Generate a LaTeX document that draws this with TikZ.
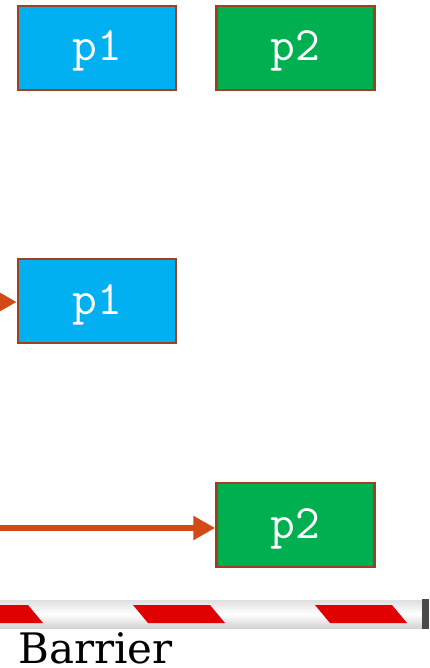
\documentclass[tikz,border=0pt]{standalone}
\usepackage{fontspec}
\setmainfont{DejaVu Serif}
\setmonofont{Latin Modern Mono}
\usetikzlibrary{arrows.meta}
\definecolor{procblue}{HTML}{00B0F0}
\definecolor{procgreen}{HTML}{00B050}
\definecolor{boxedge}{HTML}{A0401E}
\definecolor{flow}{HTML}{D24B17}
\definecolor{stripe}{HTML}{E00000}
\definecolor{capgray}{HTML}{4A4A4A}
\tikzset{
  procbox/.style={draw=boxedge, line width=2.5pt, minimum width=158pt,
    minimum height=84pt, inner sep=0pt, text=white,
    font=\ttfamily\bfseries\fontsize{48}{48}\selectfont, text height=31pt, text depth=5pt},
  flowarrow/.style={draw=flow, line width=6pt,
    -{Triangle[length=22pt,width=23pt]}},
}
\begin{document}
\begin{tikzpicture}[x=1pt,y=-1pt]
\useasboundingbox (0,0) rectangle (429,668);
\clip (0,0) rectangle (429,668);
% top row: both processes
\node[procbox, fill=procblue]  (p1a) at (97,48)  {p1};
\node[procbox, fill=procgreen] (p2a) at (295.5,48) {p2};
% p1 waiting at the barrier
\node[procbox, fill=procblue]  (p1b) at (97,301) {p1};
\coordinate (p1from) at (-40,302);
\draw[flowarrow] (p1from) -- (p1from -| p1b.west);
% p2 arriving later
\node[procbox, fill=procgreen] (p2b) at (295.5,525) {p2};
\coordinate (p2from) at (-10,528);
\draw[flowarrow] (p2from) -- (p2from -| p2b.west);
% barrier pole
\shade[top color=gray!25, bottom color=gray!35, middle color=white] (-5,600) rectangle (422,628);
\foreach \s in {-182,0,182}{
  \fill[stripe] (133+\s,605) -- (210+\s,605) -- (225+\s,623) -- (148+\s,623) -- cycle;
}
\fill[capgray] (422,599) rectangle (429,629);
\node[anchor=base west, inner sep=0pt, font=\fontsize{42}{42}\selectfont] (barrier) at (18,663) {Barrier};
\end{tikzpicture}
\end{document}
